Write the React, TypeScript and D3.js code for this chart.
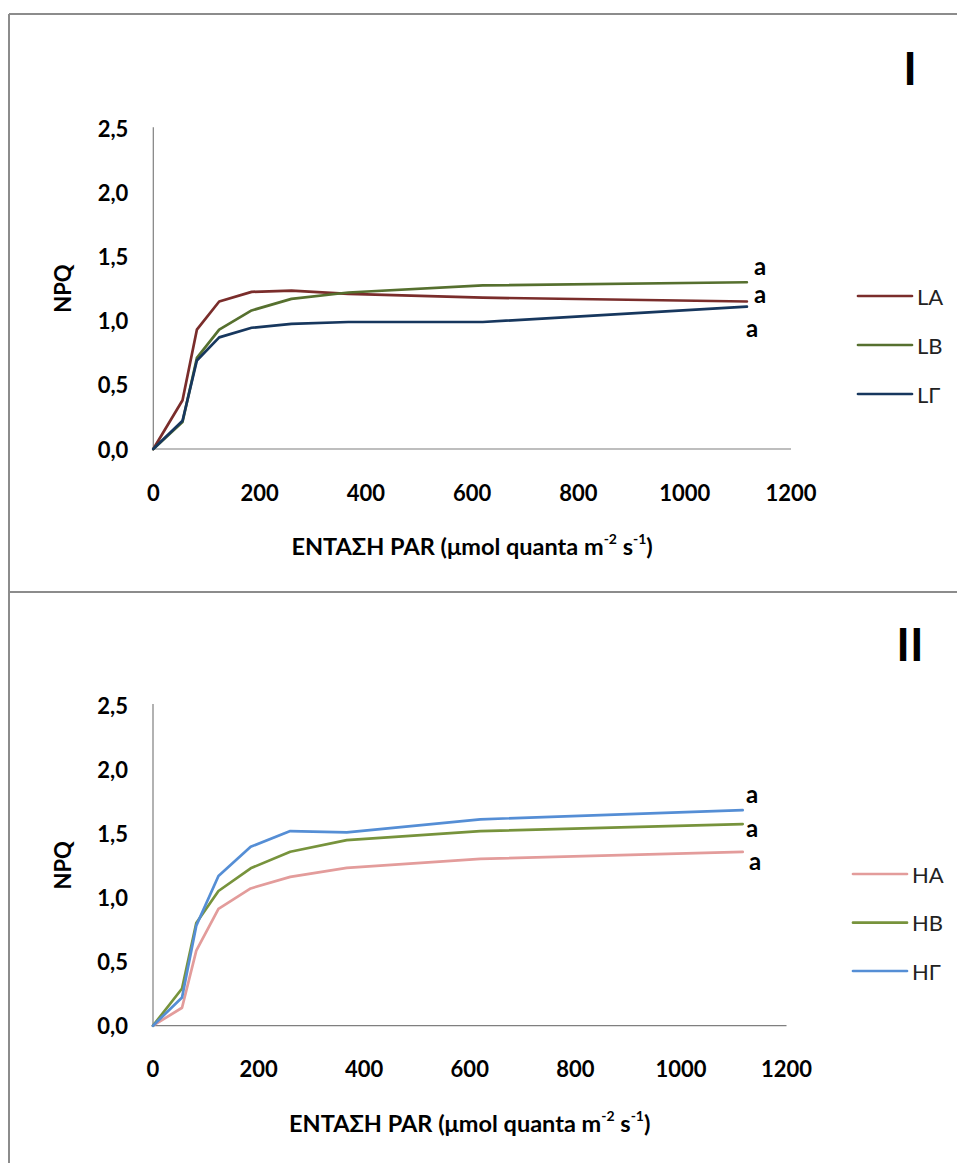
import React from "react";
import * as d3 from "d3";

// ---- data ----
const parValues = [0, 55, 82, 124, 185, 260, 367, 620, 1117];

const seriesLA = [0, 0.38, 0.93, 1.15, 1.225, 1.235, 1.21, 1.18, 1.15];
const seriesLB = [0, 0.21, 0.71, 0.93, 1.08, 1.17, 1.22, 1.275, 1.30];
const seriesLG = [0, 0.22, 0.69, 0.87, 0.945, 0.975, 0.99, 0.99, 1.11];

const seriesHA = [0, 0.14, 0.585, 0.91, 1.07, 1.16, 1.23, 1.30, 1.355];
const seriesHB = [0, 0.29, 0.80, 1.05, 1.227, 1.356, 1.447, 1.517, 1.572];
const seriesHG = [0, 0.22, 0.78, 1.167, 1.395, 1.517, 1.507, 1.609, 1.68];

const seriesNamesTop = ["LA", "LB", "LΓ"];
const seriesNamesBottom = ["HA", "HB", "HΓ"];
const xTicks = [0, 200, 400, 600, 800, 1000, 1200];
const yTicks = [0, 0.5, 1.0, 1.5, 2.0, 2.5];
const letterTop = ["a", "a", "a"];
const letterBottom = ["a", "a", "a"];

const FONT = "Lato, 'Open Sans', sans-serif";
const fmt = (v: number) => d3.format(".1f")(v).replace(".", ",");

type S = { name: string; values: number[]; color: string };

function Panel(props: {
  x0: number; x1: number; y0: number; y1: number;
  series: S[]; roman: string; romanY: number;
  legX: number; legY: number[];
  letters: { t: string; x: number; y: number }[];
}) {
  const { x0, x1, y0, y1, series, roman, romanY, legX, legY, letters } = props;
  const x = d3.scaleLinear().domain([0, 1200]).range([x0, x1]);
  const y = d3.scaleLinear().domain([0, 2.5]).range([y1, y0]);
  const line = d3.line<number>().x((_, i) => x(parValues[i])).y((d) => y(d));
  const axisColor = "#7f7f7f";
  return (
    <g>
      <text x={910} y={romanY} fontFamily={FONT} fontWeight="bold" fontSize={46}
        textAnchor="middle" dominantBaseline="central" fill="#000">{roman}</text>
      {/* axes */}
      <line x1={x0} x2={x0} y1={y0 - 1} y2={y1} stroke={axisColor} strokeWidth={1.2} />
      <line x1={x0} x2={x1} y1={y1} y2={y1} stroke={axisColor} strokeWidth={1.2} />
      {yTicks.map((t) => (
        <text key={"y" + t} x={x0 - 25} y={y(t)} textAnchor="end" dominantBaseline="central"
          fontFamily={FONT} fontWeight="bold" fontSize={22} fill="#000">{fmt(t)}</text>
      ))}
      {xTicks.map((t) => (
        <text key={"x" + t} x={x(t)} y={y1 + 43} textAnchor="middle" dominantBaseline="central"
          fontFamily={FONT} fontWeight="bold" fontSize={22} fill="#000">{t}</text>
      ))}
      <text transform={`translate(${x0 - 91},${(y0 + y1) / 2}) rotate(-90)`} textAnchor="middle"
        dominantBaseline="central" fontFamily={FONT} fontWeight="bold" fontSize={22} fill="#000">NPQ</text>
      <text x={(x0 + x1) / 2} y={y1 + 97} textAnchor="middle" dominantBaseline="central"
        fontFamily={FONT} fontWeight="bold" fontSize={23.5} fill="#000">
        ΕΝΤΑΣΗ PAR (μmol quanta m<tspan dy={-8} fontSize={14}>-2</tspan>
        <tspan dy={8}> s</tspan><tspan dy={-8} fontSize={14}>-1</tspan><tspan dy={8}>)</tspan>
      </text>
      {series.map((s) => (
        <path key={s.name} d={line(s.values) || ""} fill="none" stroke={s.color}
          strokeWidth={2.7} strokeLinejoin="round" strokeLinecap="round" />
      ))}
      {letters.map((l, i) => (
        <text key={"l" + i} x={l.x} y={l.y} textAnchor="middle" dominantBaseline="central"
          fontFamily={FONT} fontWeight="bold" fontSize={24} fill="#000">{l.t}</text>
      ))}
      {series.map((s, i) => (
        <g key={"leg" + s.name}>
          <line x1={legX} x2={legX + 54} y1={legY[i]} y2={legY[i]} stroke={s.color}
            strokeWidth={2.7} strokeLinecap="round" />
          <text x={legX + 59} y={legY[i]} dominantBaseline="central" fontFamily={FONT}
            fontSize={22} fill="#222">{s.name}</text>
        </g>
      ))}
    </g>
  );
}

export default function App() {
  const top: S[] = [
    { name: seriesNamesTop[0], values: seriesLA, color: "#7a2d2b" },
    { name: seriesNamesTop[1], values: seriesLB, color: "#56702f" },
    { name: seriesNamesTop[2], values: seriesLG, color: "#17375e" },
  ];
  const bottom: S[] = [
    { name: seriesNamesBottom[0], values: seriesHA, color: "#e39c9b" },
    { name: seriesNamesBottom[1], values: seriesHB, color: "#77933c" },
    { name: seriesNamesBottom[2], values: seriesHG, color: "#558ed5" },
  ];
  const frame = "#8c8c8c";
  return (
    <svg width={957} height={1163} style={{ position: "absolute", left: 0, top: 0, background: "#fff" }}>
      <rect x={0} y={0} width={957} height={1163} fill="#fff" />
      <line x1={9} x2={957} y1={14} y2={14} stroke={frame} strokeWidth={2} />
      <line x1={9} x2={9} y1={14} y2={1163} stroke={frame} strokeWidth={2} />
      <line x1={9} x2={957} y1={592} y2={592} stroke={frame} strokeWidth={2} />
      <Panel x0={153.3} x1={791} y0={128.3} y1={449} series={top} roman="I" romanY={67}
        legX={858} legY={[296, 345, 394]}
        letters={[
          { t: letterTop[0], x: 760, y: 265 },
          { t: letterTop[1], x: 760, y: 293 },
          { t: letterTop[2], x: 752, y: 327 },
        ]} />
      <Panel x0={153} x1={786.5} y0={705} y1={1025.7} series={bottom} roman="II" romanY={643}
        legX={853} legY={[874, 922.7, 971]}
        letters={[
          { t: letterBottom[0], x: 752, y: 793 },
          { t: letterBottom[1], x: 752, y: 827 },
          { t: letterBottom[2], x: 755, y: 860 },
        ]} />
    </svg>
  );
}
